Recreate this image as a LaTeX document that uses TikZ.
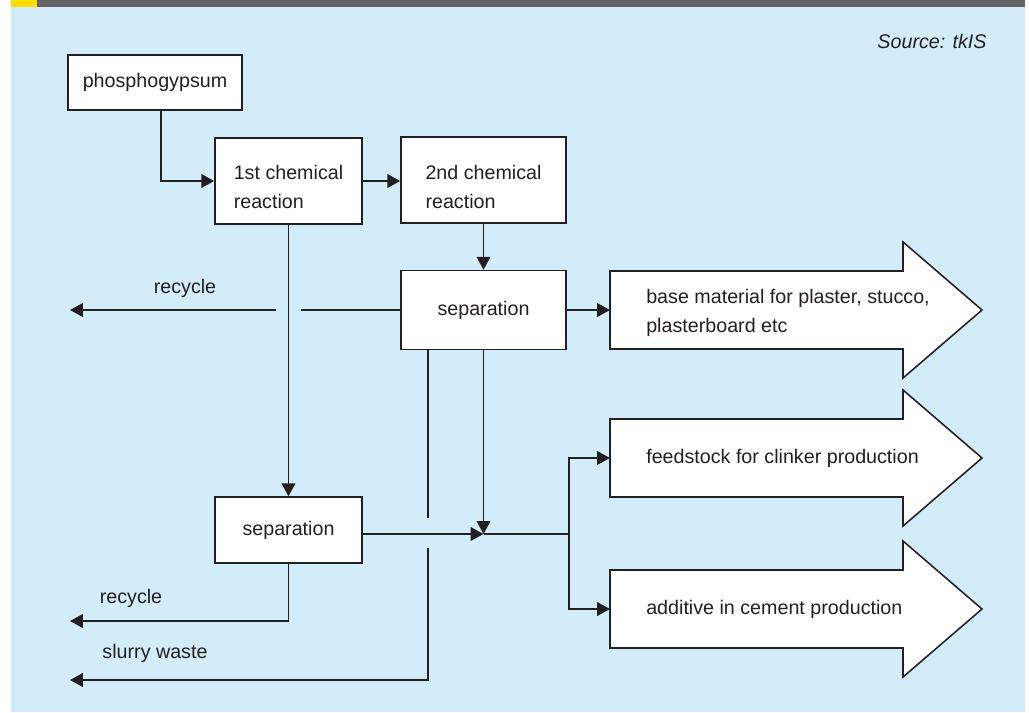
\documentclass[tikz,border=0pt]{standalone}
\usepackage{fontspec}
\setmainfont{Liberation Sans}
\usetikzlibrary{arrows.meta}
\definecolor{panel}{RGB}{211,236,249}
\definecolor{band}{RGB}{99,100,102}
\definecolor{flag}{RGB}{255,221,0}
\definecolor{ink}{RGB}{35,31,32}
\begin{document}
\begin{tikzpicture}[x=0.025cm, y=-0.025cm,
    every node/.style={font=\fontsize{14pt}{20pt}\selectfont, text=ink},
    stepbox/.style={draw=ink, fill=white, line width=1.1pt, align=left, inner sep=0pt},
    twoline/.style={text height=#1, text depth=0pt},
    link/.style={draw=ink, line width=1.1pt},
    flow/.style={link, -{Triangle[length=0.32cm, width=0.34cm]}},
    product/.style={anchor=west, align=left, inner xsep=0.9cm}]
      % panel
      \fill[white] (0,0) rectangle (1029,712);
      \fill[panel] (11,7) rectangle (1025,712);
      \fill[flag] (11,0) rectangle (37,7);
      \fill[band] (37,0) rectangle (1025,7);
      \useasboundingbox (0,0) rectangle (1029,712);
      \node[font=\itshape\fontsize{14pt}{20pt}\selectfont] (src) at (932,41) {Source: tkIS};
      % process boxes
      \node[stepbox, minimum width=4.35cm, minimum height=1.375cm] (phos) at (155,82.5) {phosphogypsum};
      \node[stepbox, twoline=1.35cm, minimum width=3.675cm, minimum height=2.15cm] (first) at (288.5,181) {1st chemical\\reaction};
      \node[stepbox, twoline=1.4cm, minimum width=4.125cm, minimum height=2.15cm] (second) at (483.5,180) {2nd chemical\\reaction};
      \node[stepbox, minimum width=4.125cm, minimum height=1.975cm] (sepA) at (483.5,310) {separation};
      \node[stepbox, minimum width=3.675cm, minimum height=1.65cm] (sepB) at (288.5,530) {separation};
      % products
      \draw[link, fill=white] (610,271) -- (903,271) -- (903,242) -- (982,310) -- (903,378) -- (903,349) -- (610,349) -- cycle;
      \node[product, twoline=1.1cm] (outA) at (610,310) {base material for plaster, stucco,\\plasterboard etc};
      \draw[link, fill=white] (610,419) -- (903,419) -- (903,390) -- (982,458) -- (903,526) -- (903,497) -- (610,497) -- cycle;
      \node[product] (outB) at (610,458) {feedstock for clinker production};
      \draw[link, fill=white] (610,570) -- (903,570) -- (903,541) -- (982,609) -- (903,677) -- (903,648) -- (610,648) -- cycle;
      \node[product] (outC) at (610,609) {additive in cement production};
      % labels
      \node (recA) at (185,288) {recycle};
      \node (recB) at (131,598) {recycle};
      \node (waste) at (155,653) {slurry waste};
      % free ends
      \coordinate (endA) at (70,310);
      \coordinate (endB) at (70,621);
      \coordinate (endC) at (70,680);
      \coordinate (gapR) at (301,310);
      \coordinate (gapL) at (276,310);
      \coordinate (gapU) at (428,518);
      \coordinate (gapD) at (428,548);
      \coordinate (merge) at (483.5,534);
      \coordinate (split) at (569,534);
      \begin{scope}[flow]
        \draw ([xshift=0.15cm]phos.south) |- (first.west);
        \draw (first.east) -- (first.east -| second.west);
        \draw (second.south) -- (sepA.north);
        \draw (sepA.east) -- (outA.west);
        \draw (first.south) -- (sepB.north);
        \draw (gapL) -- (endA);
        \draw (sepB.south) |- (endB);
        \draw (gapD) |- (endC);
        \draw (sepB.east |- merge) -- (merge);
        \draw (sepA.south) -- (merge);
        \draw (split) |- (outB.west);
        \draw (split) |- (outC.west);
      \end{scope}
      \draw[link] (sepA.west) -- (gapR);
      \draw[link] (sepA.south -| gapU) -- (gapU);
      \draw[link] (merge) -- (split);
    \end{tikzpicture}
\end{document}
